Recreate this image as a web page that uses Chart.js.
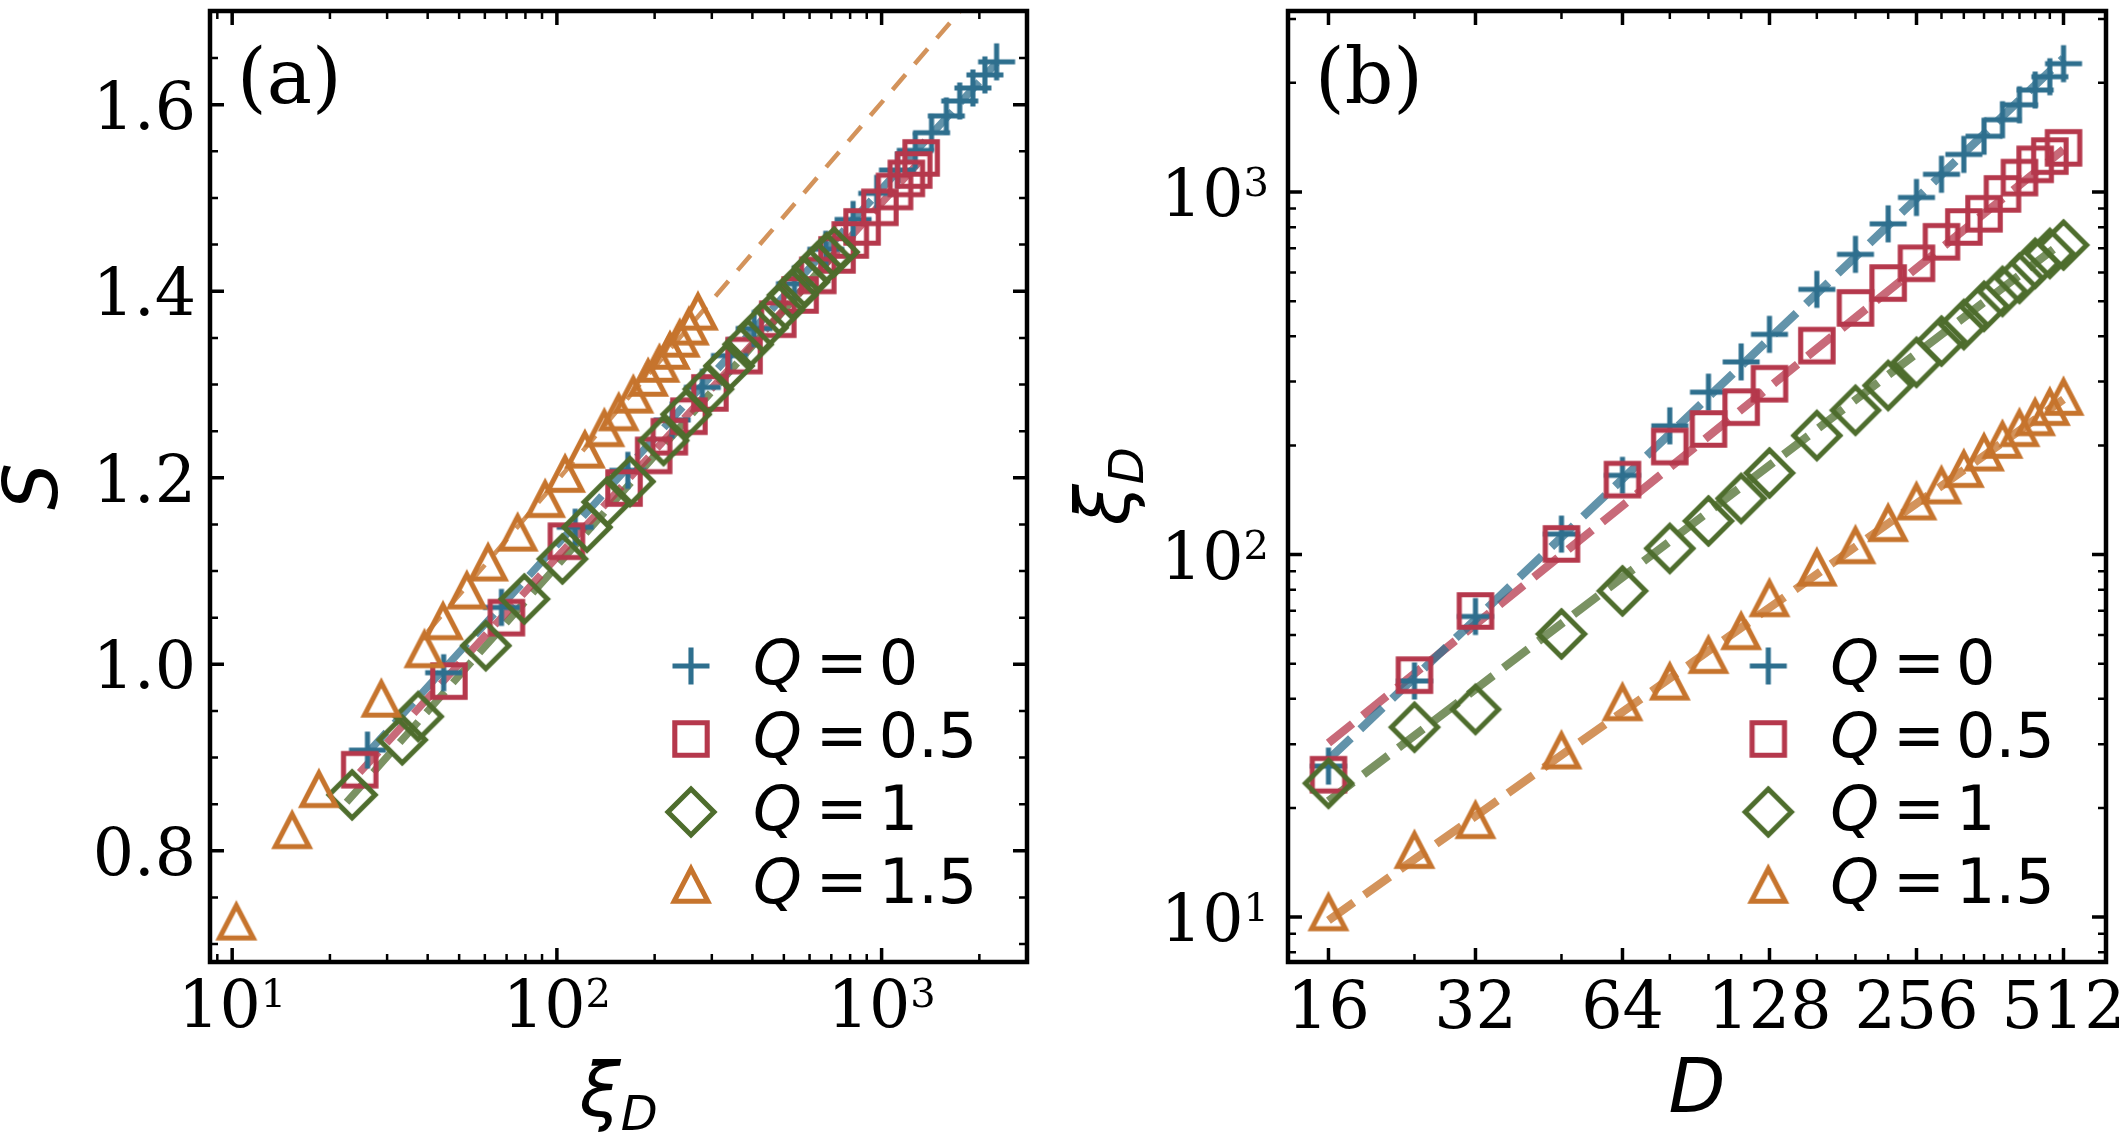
<!DOCTYPE html>
<html>
<head>
<meta charset="utf-8">
<title>S and xi_D</title>
<script src="https://cdn.jsdelivr.net/npm/chart.js@4.4.1/dist/chart.umd.min.js"></script>
<style>
  html, body { margin: 0; padding: 0; background: #ffffff; }
  #page { position: relative; width: 2119px; height: 1134px; overflow: hidden; background: #ffffff; }
  #page canvas { position: absolute; top: 0; }
</style>
</head>
<body>
<div id="page">
  <canvas id="panelA" width="1060" height="1134" style="left:0px"></canvas>
  <canvas id="panelB" width="1059" height="1134" style="left:1060px"></canvas>
</div>
<script>
// bond dimensions D
const bondDims = [16, 24, 32, 48, 64, 80, 96, 112, 128, 160, 192, 224, 256, 288, 320, 352, 384, 416, 448, 480, 512];

// correlation length xi_D for each Q (panel b, and the x values of panel a)
const xiQ0  = [26.1, 44.8, 67.5, 113.9, 165.4, 226.5, 280.5, 340, 405, 539, 673, 817, 966, 1119, 1270, 1425, 1583, 1740, 1911, 2080, 2260];
const xiQ05 = [24.7, 46.5, 69.9, 107, 161, 198.6, 222, 255, 296, 377, 479, 561, 636, 729, 801, 871, 988, 1096, 1192, 1256, 1324];
const xiQ1  = [23.4, 33.4, 37.4, 60.4, 79.4, 104, 123.8, 142.8, 167.9, 213, 250, 292.7, 339, 388, 431, 484, 532, 578, 636, 677, 714];
const xiQ15 = [10.3, 15.3, 18.5, 28.8, 39.1, 44.6, 52.8, 61.4, 75.7, 92, 106, 122, 140, 155, 172, 191, 207, 223, 239, 255, 272];

// entanglement entropy S for each Q (panel a)
const sQ0  = [0.908, 0.991, 1.061, 1.147, 1.208, 1.262, 1.297, 1.331, 1.360, 1.408, 1.445, 1.477, 1.505, 1.530, 1.551, 1.570, 1.588, 1.604, 1.618, 1.632, 1.646];
const sQ05 = [0.887, 0.982, 1.050, 1.132, 1.189, 1.224, 1.244, 1.266, 1.291, 1.331, 1.370, 1.396, 1.417, 1.439, 1.455, 1.469, 1.490, 1.507, 1.521, 1.530, 1.543];
const sQ1  = [0.860, 0.919, 0.944, 1.020, 1.070, 1.113, 1.147, 1.174, 1.196, 1.240, 1.268, 1.295, 1.320, 1.343, 1.361, 1.380, 1.396, 1.410, 1.426, 1.436, 1.442];
const sQ15 = [0.724, 0.822, 0.866, 0.963, 1.016, 1.046, 1.079, 1.109, 1.141, 1.177, 1.204, 1.230, 1.253, 1.270, 1.289, 1.307, 1.322, 1.336, 1.349, 1.362, 1.378];

// dashed fit lines, end points
const fitD      = [16, 512];
const fitXiQ0   = [27.2, 2340];
const fitXiQ05  = [30.2, 1310];
const fitXiQ1   = [20.9, 730];
const fitXiQ15  = [9.8, 268];

const fitSXiQ0  = [26.1, 2260];
const fitSQ0    = [0.905, 1.645];
const fitSXiQ05 = [24.7, 1324];
const fitSQ05   = [0.884, 1.541];
const fitSXiQ1  = [22.5, 714];
const fitSQ1    = [0.852, 1.440];
const fitSXiQ15 = [40, 1800];
const fitSQ15   = [1.035, 1.706];

// ticks
const sMajorTicks  = [0.8, 1.0, 1.2, 1.4, 1.6];
const sTickLabels  = ['0.8', '1.0', '1.2', '1.4', '1.6'];
const decadeTicks  = [10, 100, 1000];
const decadeExps   = ['1', '2', '3'];
const dMajorTicks  = [16, 32, 64, 128, 256, 512];
const dTickLabels  = ['16', '32', '64', '128', '256', '512'];

const qLabels     = ['0', '0.5', '1', '1.5'];
const qColors     = ['#2e6f8e', '#b5384c', '#4e6d2d', '#c6742d'];
const qLineColors = ['rgba(46,111,142,0.75)', 'rgba(181,56,76,0.75)', 'rgba(78,109,45,0.75)', 'rgba(198,116,45,0.78)'];

const SERIF = '"DejaVu Serif", serif';
const SANS = '"DejaVu Sans", sans-serif';

// matplotlib-like open markers
function makeMarker(kind, color) {
  const c = document.createElement('canvas');
  c.width = 64; c.height = 64;
  const g = c.getContext('2d');
  g.translate(32, 32);
  g.strokeStyle = color;
  g.lineWidth = 5.1;
  g.lineJoin = 'miter';
  g.lineCap = 'butt';
  g.beginPath();
  if (kind === 'plus') {
    g.moveTo(-18.5, 0); g.lineTo(18.5, 0);
    g.moveTo(0, -18.5); g.lineTo(0, 18.5);
  } else if (kind === 'square') {
    g.rect(-16.2, -16.2, 32.4, 32.4);
  } else if (kind === 'diamond') {
    g.moveTo(0, -23); g.lineTo(23, 0); g.lineTo(0, 23); g.lineTo(-23, 0); g.closePath();
  } else {
    g.moveTo(0, -16.2); g.lineTo(16.8, 16.2); g.lineTo(-16.8, 16.2); g.closePath();
  }
  g.stroke();
  return c;
}
const markers = ['plus', 'square', 'diamond', 'triangle'].map((k, i) => makeMarker(k, qColors[i]));

function pts(xs, ys) {
  return xs.map((v, i) => ({ x: v, y: ys[i] }));
}
function markerSet(data, i) {
  return { label: 'Q = ' + qLabels[i], data: data, pointStyle: markers[i], pointRadius: 10, showLine: false, order: 4 - i };
}
function fitSet(data, i, width, dash) {
  return { data: data, showLine: true, pointRadius: 0, borderColor: qLineColors[i], borderWidth: width, borderDash: dash, fill: false, order: 10 };
}

function logMinor(min, max) {
  const out = [];
  for (let e = Math.floor(Math.log10(min)); e <= Math.ceil(Math.log10(max)); e++) {
    for (let k = 2; k <= 9; k++) {
      const v = k * Math.pow(10, e);
      if (v > min && v < max) out.push(v);
    }
  }
  return out;
}

function powerLabel(ctx, exp, x, y, align) {
  ctx.textAlign = 'left';
  ctx.font = '65px ' + SERIF;
  const w1 = ctx.measureText('10').width;
  ctx.font = '40px ' + SERIF;
  const w2 = ctx.measureText(exp).width;
  const x0 = align === 'center' ? x - (w1 + w2) / 2 : x - (w1 + w2);
  ctx.font = '65px ' + SERIF;
  ctx.fillText('10', x0, y);
  ctx.font = '40px ' + SERIF;
  ctx.fillText(exp, x0 + w1, y - 20);
}

function xiLabel(ctx, x, y) {
  // x, y: centre and baseline of xi_D
  ctx.font = 'italic 74px ' + SANS;
  const w1 = ctx.measureText('\u03be').width;
  ctx.font = 'italic 48px ' + SANS;
  const w2 = ctx.measureText('D').width;
  const x0 = x - (w1 + w2) / 2;
  ctx.textAlign = 'left';
  ctx.font = 'italic 74px ' + SANS;
  ctx.fillText('\u03be', x0, y);
  ctx.font = 'italic 48px ' + SANS;
  ctx.fillText('D', x0 + w1, y + 14);
}

function drawTicks(ctx, a, xs, ys, len, lw) {
  ctx.lineWidth = lw;
  ctx.beginPath();
  xs.forEach(px => {
    ctx.moveTo(px, a.bottom); ctx.lineTo(px, a.bottom - len);
    ctx.moveTo(px, a.top); ctx.lineTo(px, a.top + len);
  });
  ys.forEach(py => {
    ctx.moveTo(a.left, py); ctx.lineTo(a.left + len, py);
    ctx.moveTo(a.right, py); ctx.lineTo(a.right - len, py);
  });
  ctx.stroke();
}

const decorPlugin = {
  id: 'decor',
  afterDatasetsDraw(chart, args, o) {
    const ctx = chart.ctx, a = chart.chartArea;
    const sx = chart.scales.x, sy = chart.scales.y;
    const inX = px => px > a.left + 3 && px < a.right - 3;
    const inY = py => py > a.top + 3 && py < a.bottom - 3;
    ctx.save();
    ctx.strokeStyle = '#000';
    ctx.fillStyle = '#000';
    ctx.textBaseline = 'alphabetic';

    drawTicks(ctx, a, o.xMinor.map(v => sx.getPixelForValue(v)).filter(inX),
      o.yMinor.map(v => sy.getPixelForValue(v)).filter(inY), 8, 2.5);
    drawTicks(ctx, a, o.xMajor.map(v => sx.getPixelForValue(v)).filter(inX),
      o.yMajor.map(v => sy.getPixelForValue(v)).filter(inY), 14, 3.5);
    ctx.lineWidth = 4.5;
    ctx.strokeRect(a.left, a.top, a.right - a.left, a.bottom - a.top);

    o.xMajor.forEach((v, i) => o.xLabel(ctx, sx.getPixelForValue(v), a.bottom + 65, i));
    o.yMajor.forEach((v, i) => o.yLabel(ctx, a.left, sy.getPixelForValue(v) + 24, i));

    ctx.font = '76px ' + SERIF;
    ctx.textAlign = 'left';
    ctx.fillText(o.panel, a.left + 27, 103);

    o.titles(ctx, a);

    // legend
    qLabels.forEach((q, i) => {
      const my = 666 + 73 * i;
      const m = markers[i];
      ctx.drawImage(m, o.legendX - m.width / 2, my - m.height / 2);
      ctx.font = 'italic 62px ' + SANS;
      ctx.textAlign = 'left';
      ctx.fillText('Q', o.legendX + 62, my + 18);
      ctx.font = '62px ' + SANS;
      ctx.textAlign = 'center';
      ctx.fillText('=', o.legendX + 150.7, my + 18);
      ctx.textAlign = 'left';
      ctx.fillText(q, o.legendX + 187.7, my + 18);
    });
    ctx.restore();
  }
};

function chartOptions(xCfg, yCfg, pad, decor) {
  return {
    responsive: false,
    animation: false,
    events: [],
    layout: { padding: pad },
    scales: {
      x: Object.assign({ display: false }, xCfg),
      y: Object.assign({ display: false }, yCfg)
    },
    plugins: { legend: { display: false }, tooltip: { enabled: false }, decor: decor }
  };
}

// panel (a): S versus xi_D
const aX = { type: 'logarithmic', min: 8.545, max: 2804 };
const aY = { type: 'linear', min: 0.6808, max: 1.7005 };
const sMinorTicks = [];
for (let k = 14; k <= 34; k++) {
  const v = k * 0.05;
  if (!sMajorTicks.some(m => Math.abs(m - v) < 1e-6)) sMinorTicks.push(v);
}

new Chart(document.getElementById('panelA'), {
  type: 'scatter',
  data: {
    datasets: [
      fitSet(pts(fitSXiQ0, fitSQ0), 0, 7.5, [28, 12]),
      fitSet(pts(fitSXiQ05, fitSQ05), 1, 7.5, [28, 12]),
      fitSet(pts(fitSXiQ1, fitSQ1), 2, 7.5, [28, 12]),
      fitSet(pts(fitSXiQ15, fitSQ15), 3, 4.5, [20, 14]),
      markerSet(pts(xiQ0, sQ0), 0),
      markerSet(pts(xiQ05, sQ05), 1),
      markerSet(pts(xiQ1, sQ1), 2),
      markerSet(pts(xiQ15, sQ15), 3)
    ]
  },
  options: chartOptions(aX, aY, { left: 210, top: 2, right: 33, bottom: 172 }, {
    panel: '(a)',
    xMajor: decadeTicks,
    xMinor: logMinor(aX.min, aX.max),
    yMajor: sMajorTicks,
    yMinor: sMinorTicks,
    legendX: 691,
    xLabel: (ctx, px, y, i) => powerLabel(ctx, decadeExps[i], px, y, 'center'),
    yLabel: (ctx, left, y, i) => {
      ctx.font = '65px ' + SERIF;
      ctx.textAlign = 'right';
      ctx.fillText(sTickLabels[i], left - 14, y);
    },
    titles: (ctx, a) => {
      ctx.save();
      ctx.translate(57, (a.top + a.bottom) / 2);
      ctx.rotate(-Math.PI / 2);
      ctx.font = 'italic 74px ' + SANS;
      ctx.textAlign = 'center';
      ctx.fillText('S', 0, 0);
      ctx.restore();
      xiLabel(ctx, (a.left + a.right) / 2, 1116);
    }
  }),
  plugins: [decorPlugin]
});

// panel (b): xi_D versus D
const bX = { type: 'logarithmic', min: 13.22, max: 625.6 };
const bY = { type: 'logarithmic', min: 7.52, max: 3157 };

new Chart(document.getElementById('panelB'), {
  type: 'scatter',
  data: {
    datasets: [
      fitSet(pts(fitD, fitXiQ0), 0, 8.3, [31, 13]),
      fitSet(pts(fitD, fitXiQ05), 1, 8.3, [31, 13]),
      fitSet(pts(fitD, fitXiQ1), 2, 8.3, [31, 13]),
      fitSet(pts(fitD, fitXiQ15), 3, 8.3, [31, 13]),
      markerSet(pts(bondDims, xiQ0), 0),
      markerSet(pts(bondDims, xiQ05), 1),
      markerSet(pts(bondDims, xiQ1), 2),
      markerSet(pts(bondDims, xiQ15), 3)
    ]
  },
  options: chartOptions(bX, bY, { left: 228, top: 2, right: 13, bottom: 172 }, {
    panel: '(b)',
    xMajor: dMajorTicks,
    xMinor: bondDims.filter(d => dMajorTicks.indexOf(d) < 0),
    yMajor: decadeTicks,
    yMinor: logMinor(bY.min, bY.max),
    legendX: 708.3,
    xLabel: (ctx, px, y, i) => {
      ctx.font = '65px ' + SERIF;
      ctx.textAlign = 'center';
      ctx.fillText(dTickLabels[i], px, y + 1);
    },
    yLabel: (ctx, left, y, i) => powerLabel(ctx, decadeExps[i], left - 19, y, 'right'),
    titles: (ctx, a) => {
      ctx.font = 'italic 74px ' + SANS;
      ctx.textAlign = 'center';
      ctx.fillText('D', (a.left + a.right) / 2, 1112);
      ctx.save();
      ctx.translate(69, (a.top + a.bottom) / 2);
      ctx.rotate(-Math.PI / 2);
      xiLabel(ctx, 0, 0);
      ctx.restore();
    }
  }),
  plugins: [decorPlugin]
});
</script>
</body>
</html>
